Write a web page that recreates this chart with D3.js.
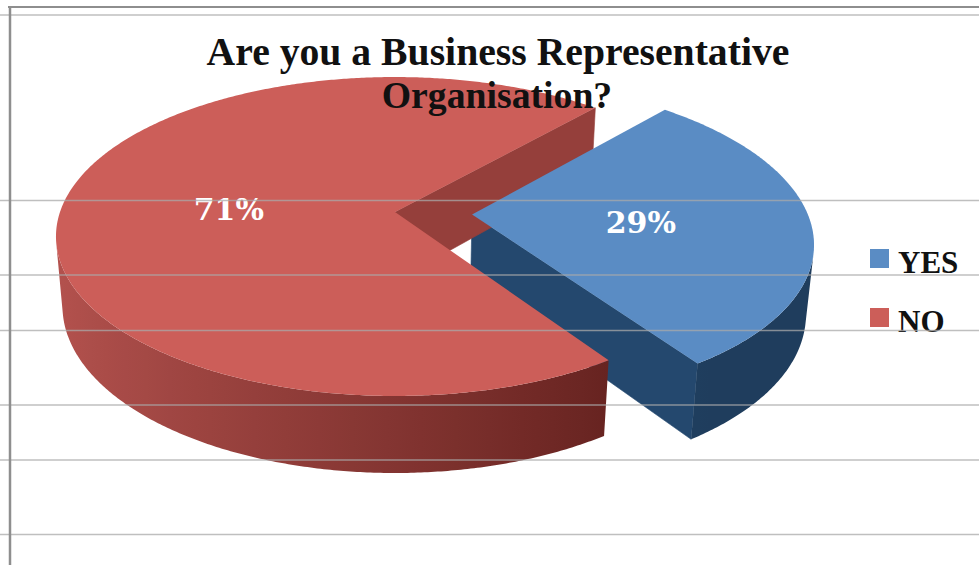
<!DOCTYPE html>
<html>
<head>
<meta charset="utf-8">
<script src="https://cdn.jsdelivr.net/npm/d3@7"></script>
<style>
  html, body { margin: 0; padding: 0; background: #ffffff; }
  svg { display: block; }
</style>
</head>
<body>
<svg id="chart" width="979" height="565"></svg>
<script>
// ---- data ----
const categories = ["YES", "NO"];
const values = [29, 71];
const valueLabels = ["29%", "71%"];
const explode = [0.23, 0];
const titleLines = ["Are you a Business Representative", "Organisation?"];

// ---- colours per category ----
const palette = {
  YES: { top: "#5A8CC4", wallLight: "#2F5683", wallDark: "#1F3D5D", cut: "#24486E" },
  NO:  { top: "#CC5E59", wallLight: "#B5534F", wallDark: "#65221F", cut: "#953F3B" }
};

const svg = d3.select("#chart");
const defs = svg.append("defs");
const W = 979, H = 565;

// ---- 3D view: tilted disc seen in perspective ----
const view = { cx: 395, cy: 212, scale: 335, tilt: Math.asin(0.4648), persp: 0.1735, depth: 0.2366 };
const sinT = Math.sin(view.tilt), cosT = Math.cos(view.tilt);
const camera = [0, sinT / view.persp, -cosT / view.persp];

function project([x, y, z]) {
  const yc = y * cosT + z * sinT;
  const dc = z * cosT - y * sinT;
  const w = 1 + view.persp * dc;
  return [view.cx + view.scale * x / w, view.cy - view.scale * yc / w];
}
function facesViewer(normal, p) {
  return normal[0] * (camera[0] - p[0]) + normal[1] * (camera[1] - p[1]) + normal[2] * (camera[2] - p[2]) > 0;
}

const firstSliceAngle = 41.8 * Math.PI / 180;
const pie = d3.pie().sort(null).value(d => d)
  .startAngle(firstSliceAngle).endAngle(firstSliceAngle + 2 * Math.PI);
const arcs = pie(values);

const line = d3.line();
const polygon = pts => line(pts.map(project)) + "Z";

const cutLayer = svg.append("g");
const wallLayer = svg.append("g");
const topLayer = svg.append("g");
const labelLayer = svg.append("g");

const step = Math.PI / 360;

arcs.forEach((a, i) => {
  const cat = categories[i];
  const col = palette[cat];
  const thS = Math.PI / 2 - a.startAngle;   // counter-clockwise end
  const thE = Math.PI / 2 - a.endAngle;     // clockwise end
  const mid = (thS + thE) / 2;
  const ox = explode[i] * Math.cos(mid), oz = explode[i] * Math.sin(mid);
  const d = view.depth;
  const rim = (t, y) => [ox + Math.cos(t), y, oz + Math.sin(t)];
  const apexTop = [ox, 0, oz], apexBot = [ox, -d, oz];

  // radial cut faces
  [[thS, [-Math.sin(thS), 0, Math.cos(thS)]], [thE, [Math.sin(thE), 0, -Math.cos(thE)]]].forEach(([t, n]) => {
    const p = [ox + 0.5 * Math.cos(t), -d / 2, oz + 0.5 * Math.sin(t)];
    if (!facesViewer(n, p)) return;
    cutLayer.append("path")
      .attr("d", polygon([apexTop, rim(t, 0), rim(t, -d), apexBot]))
      .attr("fill", col.cut).attr("stroke", col.cut).attr("stroke-width", 0.6);
  });

  // curved outer wall: visible angular run, one path with a gradient
  const nSeg = Math.ceil((thS - thE) / step);
  const angles = d3.range(nSeg + 1).map(k => thS - k * (thS - thE) / nSeg);
  const vis = [];
  for (let k = 0; k < nSeg; k++) {
    const tm = (angles[k] + angles[k + 1]) / 2;
    if (facesViewer([Math.cos(tm), 0, Math.sin(tm)], rim(tm, -d / 2))) vis.push(k);
  }
  if (vis.length) {
    const run = angles.slice(vis[0], vis[vis.length - 1] + 2);
    const topRim = run.map(t => rim(t, 0));
    const botRim = run.slice().reverse().map(t => rim(t, -d));
    const xs = run.map(t => project(rim(t, 0))[0]);
    const x0 = d3.min(xs), x1 = d3.max(xs);
    const shade = d3.scaleLinear().domain([-1, 0.6]).range([col.wallLight, col.wallDark])
      .interpolate(d3.interpolateRgb).clamp(true);
    const gid = "wall-" + cat;
    const grad = defs.append("linearGradient").attr("id", gid)
      .attr("gradientUnits", "userSpaceOnUse")
      .attr("x1", x0).attr("x2", x1).attr("y1", 0).attr("y2", 0);
    const stops = run.filter((t, k) => k % 10 === 0 || k === run.length - 1)
      .map(t => ({ off: (project(rim(t, 0))[0] - x0) / Math.max(1, x1 - x0), c: shade(Math.cos(t)) }))
      .sort((p, q) => p.off - q.off);
    grad.selectAll("stop").data(stops).join("stop")
      .attr("offset", s => s.off).attr("stop-color", s => s.c);
    wallLayer.append("path")
      .attr("d", polygon(topRim.concat(botRim)))
      .attr("fill", `url(#${gid})`);
  }

  // top face
  topLayer.append("path").attr("d", polygon([apexTop].concat(angles.map(t => rim(t, 0)))))
    .attr("fill", col.top);

  // value label
  const lp = project([ox + 0.5 * Math.cos(mid), 0, oz + 0.5 * Math.sin(mid)]);
  labelLayer.append("text")
    .attr("x", lp[0]).attr("y", lp[1] + 13)
    .attr("text-anchor", "middle")
    .attr("font-family", "'DejaVu Serif', serif")
    .attr("font-weight", "bold")
    .attr("font-size", 30)
    .attr("fill", "#FFFFFF")
    .text(valueLabels[i]);
});

// ---- title ----
const title = svg.append("g")
  .attr("font-family", "'Liberation Serif', 'Times New Roman', serif")
  .attr("font-weight", "bold")
  .attr("fill", "#111111")
  .attr("text-anchor", "middle");
const t1 = title.append("text").attr("x", 498).attr("y", 65).attr("font-size", 36).text(titleLines[0]);
const fitSize = 36 * 583 / t1.node().getComputedTextLength();
t1.attr("font-size", fitSize);
title.append("text").attr("x", 497).attr("y", 108).attr("font-size", fitSize * 0.95).text(titleLines[1]);

// ---- legend ----
const legend = svg.append("g");
categories.forEach((c, i) => {
  const y = 249 + i * 59;
  legend.append("rect").attr("x", 870).attr("y", y).attr("width", 19).attr("height", 19)
    .attr("fill", palette[c].top);
  legend.append("text").attr("x", 898).attr("y", y + 24)
    .attr("font-family", "'Liberation Serif', serif").attr("font-weight", "bold")
    .attr("font-size", 31).attr("fill", "#111111").text(c);
});

// ---- ruled page lines and frame ----
const rules = svg.append("g");
[200.5, 275, 330.5, 405, 460, 534.5].forEach(y => {
  rules.append("line").attr("x1", 0).attr("x2", W).attr("y1", y).attr("y2", y)
    .attr("stroke", "#A9A9A9").attr("stroke-opacity", 0.75).attr("stroke-width", 1.6);
});
rules.append("line").attr("x1", 0).attr("x2", W).attr("y1", 15).attr("y2", 15)
  .attr("stroke", "#CFCFCF").attr("stroke-width", 2);
rules.append("line").attr("x1", 8).attr("x2", W).attr("y1", 7).attr("y2", 7)
  .attr("stroke", "#8E8E8E").attr("stroke-width", 2);
rules.append("line").attr("x1", 10).attr("x2", 10).attr("y1", 6).attr("y2", H)
  .attr("stroke", "#8E8E8E").attr("stroke-width", 2.5);
</script>
</body>
</html>
